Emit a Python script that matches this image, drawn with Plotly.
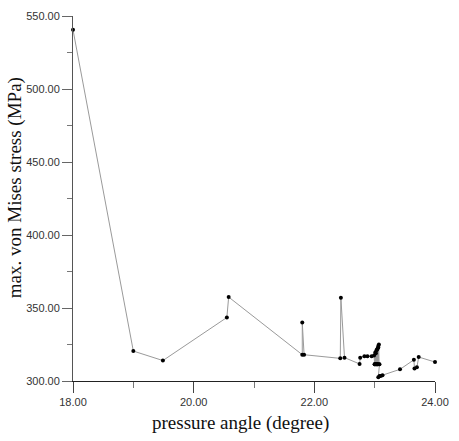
import plotly.graph_objects as go

# pressure angle (degree)
angle = [18.00, 19.00, 19.49, 20.55, 20.58, 21.80, 21.80, 21.83, 22.43, 22.44,
         22.50, 22.75, 22.76, 22.83, 22.88, 22.95, 22.99, 23.00, 23.01, 23.02,
         23.03, 23.04, 23.05, 23.06, 23.07, 23.07, 23.06, 23.05, 23.04, 23.03,
         23.02, 23.01, 23.00, 23.04, 23.08, 23.06, 23.08, 23.10, 23.13, 23.42,
         23.65, 23.66, 23.70, 23.73, 24.00]
# max. von Mises stress (MPa)
stress = [540.5, 320.5, 314.0, 343.5, 357.5, 318.0, 340.0, 318.0, 315.5, 357.0,
          316.0, 311.7, 316.0, 317.0, 317.0, 317.0, 317.5, 311.5, 319.5, 311.5,
          321.0, 311.5, 322.5, 324.0, 325.0, 311.5, 323.0, 311.5, 321.5, 311.5,
          319.0, 311.5, 311.5, 311.5, 311.5, 302.5, 303.5, 303.5, 304.0, 308.0,
          314.5, 308.5, 309.4, 316.4, 313.0]

x_range = [18, 24]
y_range = [300, 550]
x_minor = [19, 21, 23]
y_minor = [325, 375, 425, 475, 525]

fig = go.Figure()
fig.add_trace(go.Scatter(
    x=angle, y=stress, mode="lines+markers",
    line=dict(color="#9a9a9a", width=1),
    marker=dict(color="black", size=4),
    showlegend=False, cliponaxis=False,
))
# empty helper trace so the minor-tick overlay axes are rendered
fig.add_trace(go.Scatter(x=[None], y=[None], xaxis="x2", yaxis="y2",
                         mode="markers", showlegend=False, hoverinfo="skip"))

tickfont = dict(family="Liberation Sans, Arial, sans-serif", size=11, color="#333333")

fig.update_layout(
    xaxis=dict(
        range=x_range, tickmode="linear", tick0=18, dtick=2, tickformat=".2f",
        showgrid=False, zeroline=False, showline=True, linecolor="#222222", linewidth=1,
        ticks="outside", ticklen=11, tickcolor="#444444", tickfont=tickfont,
    ),
    yaxis=dict(
        range=y_range, tickmode="linear", tick0=300, dtick=50, tickformat=".2f",
        showgrid=False, zeroline=False, showline=True, linecolor="#555555", linewidth=1,
        ticks="outside", ticklen=10, tickcolor="#666666", tickfont=tickfont,
    ),
    xaxis2=dict(
        range=x_range, overlaying="x", anchor="y2", side="bottom",
        tickmode="array", tickvals=x_minor, showticklabels=False,
        ticks="outside", ticklen=6, tickcolor="#777777", tickwidth=1,
        showgrid=False, zeroline=False, showline=False,
    ),
    yaxis2=dict(
        range=y_range, overlaying="y", anchor="x2", side="left",
        tickmode="array", tickvals=y_minor, showticklabels=False,
        ticks="outside", ticklen=5, tickcolor="#777777", tickwidth=1,
        showgrid=False, zeroline=False, showline=False,
    ),
)

titlefont = dict(family="Liberation Serif, Times New Roman, serif", size=19, color="#111111")
fig.add_annotation(text="pressure angle (degree)", xref="paper", yref="paper",
                   x=(243 - 73) / 368.5, y=(381 - 424) / 371, showarrow=False,
                   font=titlefont, xanchor="center", yanchor="middle")
fig.add_annotation(text="max. von Mises stress (MPa)", xref="paper", yref="paper",
                   x=(14 - 73) / 368.5, y=(381 - 185) / 371, showarrow=False,
                   textangle=-90, font=titlefont, xanchor="center", yanchor="middle")

fig.update_layout(
    width=459, height=441,
    margin=dict(l=73, r=17.5, t=10, b=60),
    paper_bgcolor="white", plot_bgcolor="white",
)

fig.write_html("out.html")
